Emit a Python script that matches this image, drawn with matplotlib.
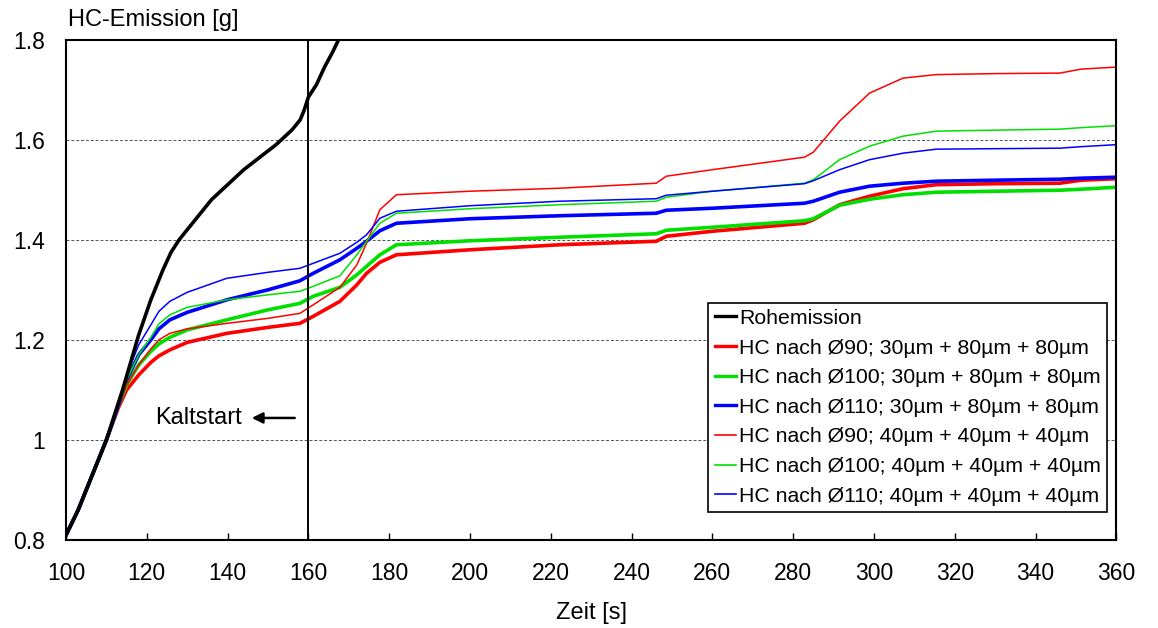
import matplotlib.pyplot as plt

plt.rcParams['font.family'] = ['Liberation Sans', 'DejaVu Sans']

# Daten
t_roh = [100, 103, 106, 110, 114, 118, 121, 124, 126, 128, 132, 136, 140, 144,
         148, 152, 156, 158, 159, 160, 162, 164, 166, 167.5]
roh = [0.81, 0.86, 0.92, 1.00, 1.10, 1.21, 1.28, 1.34, 1.375, 1.40, 1.44, 1.48,
       1.51, 1.54, 1.565, 1.59, 1.62, 1.64, 1.66, 1.685, 1.71, 1.745, 1.775, 1.80]

t = [100, 103, 106, 110, 113, 115, 118, 121, 123, 125.7, 130, 139.8, 150, 157.9, 161.2,
     167.8, 172, 174.4, 177.7, 181.8, 200, 222.2, 246.1, 248.6, 260, 282.8, 285,
     291.5, 298.9, 307.2, 315.4, 330, 346, 351.3, 360]

red_30 = [0.81, 0.86, 0.92, 1.00, 1.065, 1.10, 1.13, 1.155, 1.168, 1.18, 1.195, 1.213,
          1.225, 1.233, 1.247, 1.277, 1.31, 1.333, 1.355, 1.37, 1.38, 1.39, 1.397,
          1.407, 1.417, 1.433, 1.44, 1.47, 1.487, 1.502, 1.51, 1.512, 1.513, 1.519, 1.522]
green_30 = [0.81, 0.86, 0.92, 1.00, 1.07, 1.11, 1.15, 1.177, 1.192, 1.205, 1.22, 1.24,
            1.26, 1.273, 1.287, 1.305, 1.33, 1.347, 1.37, 1.39, 1.398, 1.405, 1.412,
            1.419, 1.425, 1.438, 1.442, 1.469, 1.481, 1.49, 1.495, 1.497, 1.499, 1.501, 1.505]
blue_30 = [0.81, 0.86, 0.92, 1.00, 1.07, 1.12, 1.17, 1.20, 1.222, 1.24, 1.255, 1.28,
           1.30, 1.318, 1.333, 1.36, 1.383, 1.397, 1.418, 1.433, 1.442, 1.448, 1.453,
           1.459, 1.463, 1.473, 1.477, 1.495, 1.507, 1.513, 1.517, 1.519, 1.521, 1.523, 1.525]
red_40 = [0.81, 0.86, 0.92, 1.00, 1.07, 1.11, 1.15, 1.182, 1.20, 1.213, 1.222, 1.233,
          1.243, 1.253, 1.27, 1.305, 1.35, 1.393, 1.46, 1.49, 1.497, 1.503, 1.513,
          1.527, 1.54, 1.565, 1.575, 1.637, 1.693, 1.723, 1.73, 1.732, 1.733, 1.741, 1.745]
green_40 = [0.81, 0.86, 0.92, 1.00, 1.07, 1.12, 1.17, 1.205, 1.232, 1.25, 1.265, 1.28,
            1.29, 1.297, 1.307, 1.328, 1.37, 1.397, 1.433, 1.453, 1.462, 1.47, 1.477,
            1.485, 1.497, 1.513, 1.52, 1.56, 1.587, 1.607, 1.617, 1.619, 1.621, 1.624, 1.628]
blue_40 = [0.81, 0.86, 0.92, 1.00, 1.07, 1.13, 1.19, 1.23, 1.257, 1.277, 1.295, 1.323,
           1.335, 1.343, 1.353, 1.373, 1.395, 1.41, 1.443, 1.457, 1.468, 1.477, 1.482,
           1.489, 1.497, 1.512, 1.518, 1.54, 1.56, 1.573, 1.581, 1.582, 1.583, 1.586, 1.59]

serien = [
    (red_30, '#ff0000', 2.6, 'HC nach Ø90; 30µm + 80µm + 80µm'),
    (green_30, '#00e000', 2.6, 'HC nach Ø100; 30µm + 80µm + 80µm'),
    (blue_30, '#0000ff', 2.6, 'HC nach Ø110; 30µm + 80µm + 80µm'),
    (red_40, '#ff0000', 1.1, 'HC nach Ø90; 40µm + 40µm + 40µm'),
    (green_40, '#00e000', 1.1, 'HC nach Ø100; 40µm + 40µm + 40µm'),
    (blue_40, '#0000ff', 1.1, 'HC nach Ø110; 40µm + 40µm + 40µm'),
]

x_ticks = list(range(100, 361, 20))
y_ticks = [0.8, 1.0, 1.2, 1.4, 1.6, 1.8]
y_tick_labels = ['0.8', '1', '1.2', '1.4', '1.6', '1.8']

# Visualisierung
fig = plt.figure(figsize=(11.58, 6.28), dpi=100)
ax = fig.add_axes([0.057, 0.14, 0.907, 0.797])

ax.plot(t_roh, roh, color='black', lw=2.6, label='Rohemission', zorder=5)
for werte, farbe, lw, name in serien:
    ax.plot(t, werte, color=farbe, lw=lw, label=name)

ax.axvline(160, color='black', lw=1.4, zorder=6)
ax.annotate('', xy=(145.3, 1.044), xytext=(157.3, 1.044),
            arrowprops=dict(arrowstyle='-|>', color='black', lw=1.8, mutation_scale=16))
ax.text(143.6, 1.044, 'Kaltstart', ha='right', va='center', fontsize=17)

ax.set_xlim(100, 360)
ax.set_ylim(0.8, 1.8)
ax.set_xticks(x_ticks)
ax.set_yticks(y_ticks)
ax.set_yticklabels(y_tick_labels)
ax.tick_params(axis='both', direction='in', labelsize=16.5, length=5, width=1)
ax.tick_params(axis='y', length=0, pad=15)
ax.tick_params(axis='x', pad=16)
for y in [1.0, 1.2, 1.4, 1.6]:
    ax.axhline(y, color='#555555', lw=0.7, ls=(0, (3, 2)), zorder=0)
for s in ax.spines.values():
    s.set_linewidth(1.5)

ax.set_xlabel('Zeit [s]', fontsize=17, labelpad=12)
fig.text(0.0585, 0.951, 'HC-Emission [g]', fontsize=17, ha='left', va='bottom')

leg = ax.legend(loc='lower right', bbox_to_anchor=(0.9914, 0.056), fontsize=15.3,
                frameon=True, fancybox=False, edgecolor='black', framealpha=1,
                handlelength=1.0, handletextpad=0.15, borderpad=0.3,
                labelspacing=0.5, borderaxespad=0)
leg.get_frame().set_linewidth(1.2)
for line in leg.get_lines():
    line.set_linewidth(2.4 if line.get_linewidth() > 2 else 1.2)

plt.savefig('out.png', dpi=100)
